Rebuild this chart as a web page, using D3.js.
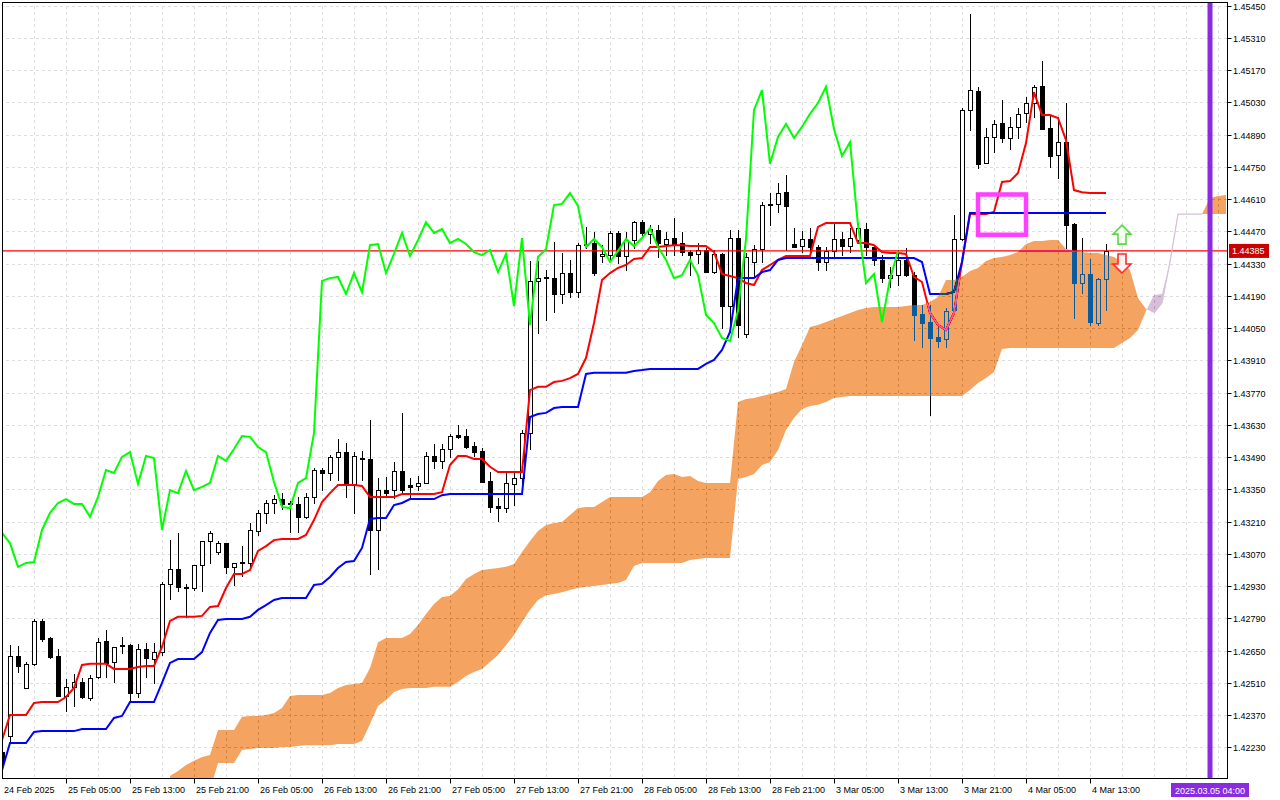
<!DOCTYPE html>
<html>
<head>
<meta charset="utf-8">
<script src="https://cdn.jsdelivr.net/npm/d3@7"></script>
<style>
  body { margin: 0; background: #fff; }
  svg { display: block; font-family: "Liberation Sans", Arial, sans-serif; font-size: 9px; }
</style>
</head>
<body>
<script>
// EURCHF-like H1 chart with Ichimoku

const open = [1.42210,1.42280,1.42627,1.42488,1.42593,1.42779,1.42705,1.42627,1.42453,1.42493,
  1.42514,1.42444,1.42536,1.42692,1.42601,1.42670,1.42674,1.42466,1.42657,1.42614,
  1.42644,1.42940,1.43005,1.42922,1.42922,1.43022,1.43126,1.43078,1.43117,1.43014,
  1.43031,1.43031,1.43170,1.43248,1.43291,1.43308,1.43291,1.43287,1.43231,1.43317,
  1.43434,1.43421,1.43491,1.43512,1.43374,1.43482,1.43482,1.43174,1.43347,1.43347,
  1.43430,1.43369,1.43365,1.43378,1.43495,1.43474,1.43525,1.43586,1.43582,1.43538,
  1.43517,1.43387,1.43278,1.43269,1.43374,1.43399,1.43595,1.44255,1.44267,1.44267,
  1.44198,1.44289,1.44206,1.44410,1.44419,1.44363,1.44367,1.44463,1.44363,1.44432,
  1.44510,1.44459,1.44476,1.44415,1.44441,1.44419,1.44380,1.44372,1.44389,1.44293,
  1.44372,1.44146,1.44441,1.44025,1.44337,1.44393,1.44584,1.44589,1.44640,1.44415,
  1.44406,1.44437,1.44402,1.44337,1.44385,1.44437,1.44406,1.44432,1.44480,1.44402,
  1.44346,1.44267,1.44280,1.44346,1.44280,1.44112,1.44076,1.44012,1.44003,1.44129,
  1.44437,1.44997,1.45079,1.44767,1.44880,1.44940,1.44875,1.44923,1.44984,1.45027,
  1.45101,1.44918,1.44801,1.44857,1.44502,1.44246,1.44285,1.44072,1.44263];

const high = [1.42240,1.42674,1.42670,1.42601,1.42788,1.42788,1.42710,1.42657,1.42527,1.42549,
  1.42531,1.42544,1.42705,1.42740,1.42666,1.42710,1.42679,1.42679,1.42683,1.42683,
  1.42948,1.43130,1.43161,1.42940,1.43022,1.43126,1.43170,1.43126,1.43117,1.43031,
  1.43104,1.43204,1.43261,1.43304,1.43325,1.43334,1.43300,1.43317,1.43334,1.43443,
  1.43443,1.43499,1.43569,1.43551,1.43512,1.43517,1.43651,1.43399,1.43404,1.43469,
  1.43682,1.43399,1.43408,1.43512,1.43547,1.43547,1.43591,1.43629,1.43612,1.43555,
  1.43529,1.43425,1.43312,1.43421,1.43421,1.43608,1.44342,1.44342,1.44302,1.44423,
  1.44376,1.44346,1.44419,1.44489,1.44467,1.44410,1.44472,1.44472,1.44467,1.44515,
  1.44519,1.44497,1.44497,1.44467,1.44528,1.44467,1.44389,1.44419,1.44397,1.44389,
  1.44376,1.44476,1.44476,1.44376,1.44410,1.44597,1.44636,1.44680,1.44714,1.44484,
  1.44472,1.44484,1.44410,1.44402,1.44506,1.44467,1.44484,1.44506,1.44506,1.44410,
  1.44367,1.44316,1.44389,1.44397,1.44293,1.44150,1.44150,1.44055,1.44137,1.44541,
  1.45005,1.45414,1.45097,1.44918,1.44953,1.45040,1.44967,1.45005,1.45053,1.45105,
  1.45210,1.44975,1.44967,1.45027,1.44506,1.44441,1.44350,1.44267,1.44415];

const low = [1.42132,1.42249,1.42557,1.42488,1.42588,1.42692,1.42618,1.42453,1.42389,1.42410,
  1.42444,1.42436,1.42531,1.42536,1.42514,1.42640,1.42427,1.42449,1.42536,1.42510,
  1.42631,1.42874,1.42909,1.42797,1.42913,1.42909,1.43031,1.43070,1.42987,1.42935,
  1.42974,1.43014,1.43152,1.43204,1.43248,1.43265,1.43165,1.43165,1.43226,1.43291,
  1.43347,1.43391,1.43391,1.43317,1.43248,1.43391,1.42983,1.43005,1.43317,1.43312,
  1.43338,1.43317,1.43347,1.43378,1.43443,1.43443,1.43491,1.43573,1.43529,1.43495,
  1.43382,1.43252,1.43213,1.43252,1.43282,1.43369,1.43525,1.44029,1.44085,1.44120,
  1.44159,1.44185,1.44185,1.44397,1.44280,1.44337,1.44346,1.44333,1.44302,1.44397,
  1.44454,1.44419,1.44359,1.44367,1.44367,1.44367,1.44280,1.44333,1.44293,1.44289,
  1.44050,1.44033,1.44012,1.44012,1.44276,1.44337,1.44497,1.44554,1.44389,1.44402,
  1.44380,1.44380,1.44302,1.44302,1.44359,1.44367,1.44380,1.44423,1.44367,1.44324,
  1.44250,1.44229,1.44237,1.44276,1.43998,1.43968,1.43673,1.43968,1.43968,1.44120,
  1.44432,1.44910,1.44745,1.44767,1.44814,1.44857,1.44827,1.44875,1.44944,1.44967,
  1.44914,1.44750,1.44701,1.44397,1.44094,1.44202,1.44063,1.44063,1.44129];

const close = [1.42167,1.42627,1.42584,1.42593,1.42779,1.42701,1.42623,1.42453,1.42493,1.42514,
  1.42449,1.42531,1.42687,1.42597,1.42666,1.42674,1.42466,1.42657,1.42618,1.42644,
  1.42940,1.43005,1.42927,1.42927,1.43022,1.43126,1.43161,1.43117,1.43014,1.43031,
  1.43035,1.43174,1.43248,1.43291,1.43308,1.43287,1.43287,1.43231,1.43317,1.43434,
  1.43421,1.43491,1.43512,1.43374,1.43495,1.43486,1.43174,1.43347,1.43334,1.43430,
  1.43347,1.43361,1.43378,1.43495,1.43474,1.43525,1.43582,1.43578,1.43534,1.43512,
  1.43382,1.43274,1.43269,1.43378,1.43399,1.43595,1.44255,1.44267,1.44272,1.44198,
  1.44289,1.44206,1.44410,1.44415,1.44289,1.44372,1.44463,1.44363,1.44432,1.44510,
  1.44463,1.44480,1.44419,1.44437,1.44415,1.44380,1.44367,1.44389,1.44293,1.44372,
  1.44146,1.44441,1.44063,1.44359,1.44393,1.44584,1.44589,1.44636,1.44580,1.44402,
  1.44437,1.44402,1.44337,1.44385,1.44437,1.44406,1.44441,1.44484,1.44402,1.44346,
  1.44267,1.44280,1.44346,1.44280,1.44107,1.44072,1.44007,1.43994,1.44125,1.44437,
  1.44997,1.45083,1.44763,1.44880,1.44936,1.44875,1.44923,1.44980,1.45027,1.45097,
  1.44914,1.44797,1.44857,1.44497,1.44246,1.44285,1.44076,1.44263,1.44385];

const tenkan = [1.42262,1.42371,1.42371,1.42371,1.42423,1.42427,1.42427,1.42427,1.42449,1.42488,
  1.42588,1.42593,1.42593,1.42593,1.42571,1.42571,1.42571,1.42579,1.42584,1.42584,
  1.42666,1.42779,1.42797,1.42797,1.42797,1.42801,1.42840,1.42844,1.42922,1.42983,
  1.42983,1.43000,1.43083,1.43104,1.43130,1.43135,1.43135,1.43135,1.43152,1.43217,
  1.43295,1.43334,1.43369,1.43369,1.43369,1.43365,1.43317,1.43317,1.43317,1.43317,
  1.43330,1.43330,1.43330,1.43330,1.43330,1.43338,1.43456,1.43495,1.43495,1.43482,
  1.43482,1.43448,1.43425,1.43425,1.43425,1.43425,1.43781,1.43795,1.43795,1.43816,
  1.43821,1.43833,1.43851,1.43920,1.44072,1.44259,1.44289,1.44311,1.44324,1.44350,
  1.44354,1.44402,1.44402,1.44406,1.44410,1.44410,1.44406,1.44406,1.44406,1.44380,
  1.44285,1.44276,1.44267,1.44246,1.44237,1.44302,1.44324,1.44346,1.44363,1.44363,
  1.44363,1.44363,1.44489,1.44506,1.44506,1.44506,1.44506,1.44419,1.44419,1.44410,
  1.44380,1.44376,1.44376,1.44372,1.44272,1.44250,1.44116,1.44063,1.44042,1.44116,
  1.44337,1.44545,1.44545,1.44545,1.44554,1.44684,1.44688,1.44723,1.44853,1.45074,
  1.44975,1.44975,1.44962,1.44866,1.44649,1.44640,1.44636,1.44636,1.44636];

const kijun = [1.42132,1.42249,1.42249,1.42249,1.42297,1.42301,1.42301,1.42301,1.42301,1.42301,
  1.42310,1.42310,1.42310,1.42310,1.42358,1.42367,1.42427,1.42427,1.42427,1.42427,
  1.42510,1.42597,1.42614,1.42614,1.42614,1.42644,1.42727,1.42783,1.42788,1.42788,
  1.42788,1.42797,1.42827,1.42848,1.42870,1.42879,1.42879,1.42879,1.42879,1.42935,
  1.42940,1.42970,1.43009,1.43035,1.43039,1.43096,1.43222,1.43226,1.43226,1.43282,
  1.43291,1.43308,1.43308,1.43308,1.43308,1.43325,1.43330,1.43330,1.43330,1.43330,
  1.43330,1.43330,1.43330,1.43330,1.43330,1.43330,1.43664,1.43677,1.43682,1.43703,
  1.43708,1.43708,1.43708,1.43851,1.43856,1.43856,1.43856,1.43856,1.43856,1.43864,
  1.43868,1.43873,1.43873,1.43873,1.43873,1.43873,1.43873,1.43873,1.43895,1.43912,
  1.43955,1.44033,1.44267,1.44267,1.44267,1.44293,1.44302,1.44346,1.44354,1.44354,
  1.44354,1.44354,1.44354,1.44354,1.44354,1.44354,1.44354,1.44354,1.44354,1.44354,
  1.44354,1.44354,1.44354,1.44354,1.44354,1.44337,1.44198,1.44198,1.44198,1.44207,
  1.44337,1.44550,1.44550,1.44550,1.44550,1.44550,1.44550,1.44550,1.44550,1.44550,
  1.44550,1.44550,1.44550,1.44550,1.44550,1.44550,1.44550,1.44550,1.44550];

// Senkou spans, already shifted forward; first value belongs to bar 21
const cloudStart = 21;
const spanA = [1.42106,1.42128,1.42154,1.42172,1.42189,1.42197,1.42306,1.42306,1.42306,1.42363,
  1.42367,1.42367,1.42371,1.42380,1.42401,1.42453,1.42458,1.42458,1.42458,1.42458,
  1.42466,1.42488,1.42501,1.42505,1.42510,1.42575,1.42687,1.42705,1.42705,1.42705,
  1.42722,1.42761,1.42809,1.42853,1.42883,1.42887,1.42917,1.42961,1.42983,1.43000,
  1.43005,1.43009,1.43014,1.43026,1.43078,1.43126,1.43170,1.43196,1.43204,1.43209,
  1.43239,1.43269,1.43274,1.43274,1.43295,1.43317,1.43317,1.43317,1.43317,1.43317,
  1.43338,1.43387,1.43413,1.43417,1.43404,1.43408,1.43387,1.43378,1.43378,1.43378,
  1.43378,1.43729,1.43742,1.43747,1.43755,1.43764,1.43773,1.43786,1.43903,1.43977,
  1.44055,1.44063,1.44076,1.44090,1.44103,1.44116,1.44129,1.44137,1.44142,1.44142,
  1.44142,1.44142,1.44146,1.44150,1.44150,1.44163,1.44185,1.44259,1.44259,1.44272,
  1.44298,1.44311,1.44341,1.44354,1.44359,1.44367,1.44380,1.44415,1.44428,1.44428,
  1.44432,1.44432,1.44393,1.44385,1.44380,1.44376,1.44376,1.44367,1.44359,1.44337,
  1.44302,1.44181,1.44133,1.44116,1.44159,1.44337,1.44545,1.44545,1.44545,1.44545,
  1.44615,1.44623,1.44628];

const spanB = [1.41980,1.41993,1.42002,1.42015,1.42032,1.42045,1.42163,1.42163,1.42163,1.42219,
  1.42223,1.42228,1.42228,1.42228,1.42232,1.42232,1.42236,1.42240,1.42240,1.42240,
  1.42240,1.42245,1.42245,1.42245,1.42258,1.42332,1.42410,1.42436,1.42471,1.42484,
  1.42488,1.42488,1.42488,1.42493,1.42493,1.42493,1.42514,1.42540,1.42557,1.42571,
  1.42601,1.42631,1.42674,1.42718,1.42774,1.42827,1.42870,1.42891,1.42896,1.42904,
  1.42913,1.42922,1.42927,1.42931,1.42935,1.42940,1.42944,1.42957,1.43018,1.43031,
  1.43031,1.43031,1.43031,1.43031,1.43031,1.43044,1.43048,1.43052,1.43052,1.43052,
  1.43052,1.43395,1.43404,1.43417,1.43456,1.43469,1.43521,1.43608,1.43660,1.43699,
  1.43712,1.43717,1.43729,1.43747,1.43751,1.43755,1.43755,1.43755,1.43755,1.43755,
  1.43755,1.43755,1.43755,1.43755,1.43755,1.43755,1.43755,1.43755,1.43755,1.43755,
  1.43781,1.43812,1.43834,1.43860,1.43959,1.43964,1.43964,1.43964,1.43964,1.43964,
  1.43964,1.43964,1.43964,1.43964,1.43964,1.43964,1.43964,1.43964,1.43964,1.43985,
  1.44007,1.44042,1.44124,1.44194,1.44198,1.44337,1.44545,1.44545,1.44545,1.44545,
  1.44545,1.44545,1.44545];

const chikouShift = 26;

const priceTicks = [1.45450,1.45310,1.45170,1.45030,1.44890,1.44750,1.44610,1.44470,1.44330,
  1.44190,1.44050,1.43910,1.43770,1.43630,1.43490,1.43350,1.43210,1.43070,1.42930,
  1.42790,1.42650,1.42510,1.42370,1.42230];

const timeTickBars = [0,8,16,24,32,40,48,56,64,72,80,88,96,104,112,120,128,136];
const timeTickLabels = ["24 Feb 2025","25 Feb 05:00","25 Feb 13:00","25 Feb 21:00","26 Feb 05:00",
  "26 Feb 13:00","26 Feb 21:00","27 Feb 05:00","27 Feb 13:00","27 Feb 21:00","28 Feb 05:00",
  "28 Feb 13:00","28 Feb 21:00","3 Mar 05:00","3 Mar 13:00","3 Mar 21:00","4 Mar 05:00","4 Mar 13:00"];

const lastPrice = 1.44385;
const nowBar = 151;
const nowLabel = "2025.03.05 04:00";
const boxBars = [122, 128];
const boxPrices = [1.44630, 1.44455];
const arrowBar = 140;
const upArrowPrice = 1.44497;
const downArrowPrice = 1.44289;

const width = 1280;
const height = 800;
const plot = { left: 2.5, top: 2.5, right: 1227.5, bottom: 778.5 };

const x = d3.scaleLinear().domain([0, 153]).range([2, 1226]);
const y = d3.scaleLinear().domain([1.45474, 1.420888]).range([0, 780]);

const svg = d3.select("body").append("svg")
    .attr("width", width)
    .attr("height", height);

svg.append("rect").attr("width", width).attr("height", height).attr("fill", "#fff");

const defs = svg.append("defs");
defs.append("clipPath").attr("id", "plot")
    .append("rect").attr("x", 3).attr("y", 3).attr("width", 1224).attr("height", 775);

const cloudIdx = d3.range(spanA.length);
const cx = (j) => x(cloudStart + j);

// region above each span line, used to cut the fills
defs.append("clipPath").attr("id", "aboveB").append("path")
    .attr("d", d3.area().x(cx).y0(-10).y1((j) => y(spanB[j]))(cloudIdx));
defs.append("clipPath").attr("id", "aboveA").append("path")
    .attr("d", d3.area().x(cx).y0(-10).y1((j) => y(spanA[j]))(cloudIdx));

const g = svg.append("g").attr("clip-path", "url(#plot)");

// the clipped group is isolated, so it needs its own white backdrop for the blend
g.append("rect").attr("width", width).attr("height", height).attr("fill", "#fff");

// grid
g.append("g").selectAll("line").data(priceTicks).enter().append("line")
    .attr("x1", 0).attr("x2", plot.right)
    .attr("y1", (d) => Math.round(y(d)) + 0.5)
    .attr("y2", (d) => Math.round(y(d)) + 0.5)
    .attr("stroke", "#dedede").attr("stroke-dasharray", "3,3");

g.append("g").selectAll("line").data(d3.range(4, 154, 4)).enter().append("line")
    .attr("x1", (d) => x(d) + 0.5).attr("x2", (d) => x(d) + 0.5)
    .attr("y1", 0).attr("y2", plot.bottom)
    .attr("stroke", "#dedede").attr("stroke-dasharray", "3,3");

// candles
const candles = g.append("g").attr("shape-rendering", "crispEdges");
close.forEach((c, i) => {
    const o = open[i];
    const px = x(i);
    candles.append("line")
        .attr("x1", px + 0.5).attr("x2", px + 0.5)
        .attr("y1", Math.round(y(high[i]))).attr("y2", Math.round(y(low[i])) + 1)
        .attr("stroke", "#000");
    const top = Math.round(y(Math.max(o, c)));
    const bot = Math.round(y(Math.min(o, c)));
    if (bot - top < 1) {
        candles.append("line")
            .attr("x1", px - 2).attr("x2", px + 3)
            .attr("y1", top + 0.5).attr("y2", top + 0.5)
            .attr("stroke", "#000");
    } else {
        candles.append("rect")
            .attr("x", px - 1.5).attr("y", top + 0.5)
            .attr("width", 4).attr("height", bot - top)
            .attr("fill", c > o ? "#fff" : "#000")
            .attr("stroke", "#000");
    }
});

const line = d3.line().x((d, i) => x(i)).y((d) => y(d));

g.append("path").attr("d", line(tenkan))
    .attr("fill", "none").attr("stroke", "#ff0000").attr("stroke-width", 2);
g.append("path").attr("d", line(kijun))
    .attr("fill", "none").attr("stroke", "#0000ff").attr("stroke-width", 2);

// current price line
g.append("line")
    .attr("x1", 0).attr("x2", plot.right)
    .attr("y1", y(lastPrice)).attr("y2", y(lastPrice))
    .attr("stroke", "#ff0000").attr("stroke-width", 1.3);

// kumo, painted with a difference blend so candles inside turn blue
g.append("path")
    .attr("d", d3.area().x(cx).y0((j) => y(spanA[j])).y1(800)(cloudIdx))
    .attr("clip-path", "url(#aboveB)")
    .attr("fill", "rgb(11,91,159)")
    .style("mix-blend-mode", "difference");
g.append("path")
    .attr("d", d3.area().x(cx).y0((j) => y(spanB[j])).y1(800)(cloudIdx))
    .attr("clip-path", "url(#aboveA)")
    .attr("fill", "rgb(39,64,39)")
    .style("mix-blend-mode", "difference");
g.append("path")
    .attr("d", d3.line().defined((j) => spanA[j] <= spanB[j] + 1e-7).x(cx).y((j) => y(spanA[j]))(cloudIdx))
    .attr("fill", "none").attr("stroke", "#d8bfd8").attr("stroke-width", 1.2);

// chikou span
const chikou = d3.range(chikouShift, close.length);
g.append("path")
    .attr("d", d3.line().x((i) => x(i - chikouShift)).y((i) => y(close[i]))(chikou))
    .attr("fill", "none").attr("stroke", "#00ff00").attr("stroke-width", 2);

// marked box
g.append("rect")
    .attr("x", x(boxBars[0])).attr("y", y(boxPrices[0]))
    .attr("width", x(boxBars[1]) - x(boxBars[0]))
    .attr("height", y(boxPrices[1]) - y(boxPrices[0]))
    .attr("fill", "none").attr("stroke", "#ff40ff").attr("stroke-width", 4.5);

// signal arrows
const ax = x(arrowBar);
const uy = y(upArrowPrice);
const dy = y(downArrowPrice);
g.append("path")
    .attr("d", `M${ax},${uy}L${ax + 9},${uy + 9}L${ax + 4},${uy + 9}L${ax + 4},${uy + 19}L${ax - 4},${uy + 19}L${ax - 4},${uy + 9}L${ax - 9},${uy + 9}Z`)
    .attr("fill", "#f4fff0").attr("stroke", "#5ed64a").attr("stroke-width", 1.6);
g.append("path")
    .attr("d", `M${ax},${dy}L${ax + 9},${dy - 9}L${ax + 4},${dy - 9}L${ax + 4},${dy - 19}L${ax - 4},${dy - 19}L${ax - 4},${dy - 9}L${ax - 9},${dy - 9}Z`)
    .attr("fill", "#fff0f0").attr("stroke", "#ff2a2a").attr("stroke-width", 1.6);

// time marker
svg.append("line")
    .attr("x1", x(nowBar)).attr("x2", x(nowBar))
    .attr("y1", 3).attr("y2", plot.bottom)
    .attr("stroke", "#8a2be2").attr("stroke-width", 5);

// frame
svg.append("rect")
    .attr("x", plot.left).attr("y", plot.top)
    .attr("width", plot.right - plot.left).attr("height", plot.bottom - plot.top)
    .attr("fill", "none").attr("stroke", "#000");

// price axis
const yAxis = svg.append("g");
priceTicks.forEach((p) => {
    const py = Math.round(y(p)) + 0.5;
    yAxis.append("line").attr("x1", plot.right).attr("x2", plot.right + 4)
        .attr("y1", py).attr("y2", py).attr("stroke", "#000");
    yAxis.append("text").attr("x", 1233).attr("y", py + 3.5).text(p.toFixed(5));
});

const lp = y(lastPrice);
svg.append("rect").attr("x", 1229).attr("y", lp - 7).attr("width", 40).attr("height", 14)
    .attr("fill", "#c80000");
svg.append("text").attr("x", 1232).attr("y", lp + 3.5).attr("fill", "#fff").text(lastPrice.toFixed(5));

// time axis
const xAxis = svg.append("g");
timeTickBars.forEach((b, k) => {
    const px = x(b) + 0.5;
    if (b > 0) {
        xAxis.append("line").attr("x1", px).attr("x2", px)
            .attr("y1", plot.bottom).attr("y2", plot.bottom + 5).attr("stroke", "#000");
    }
    xAxis.append("text").attr("x", x(b) + 2).attr("y", 793).text(timeTickLabels[k]);
});

svg.append("rect").attr("x", x(nowBar) - 39).attr("y", 783).attr("width", 78).attr("height", 14)
    .attr("fill", "#8a2be2");
svg.append("text").attr("x", x(nowBar)).attr("y", 793.5).attr("text-anchor", "middle")
    .attr("fill", "#fff").text(nowLabel);
</script>
</body>
</html>
